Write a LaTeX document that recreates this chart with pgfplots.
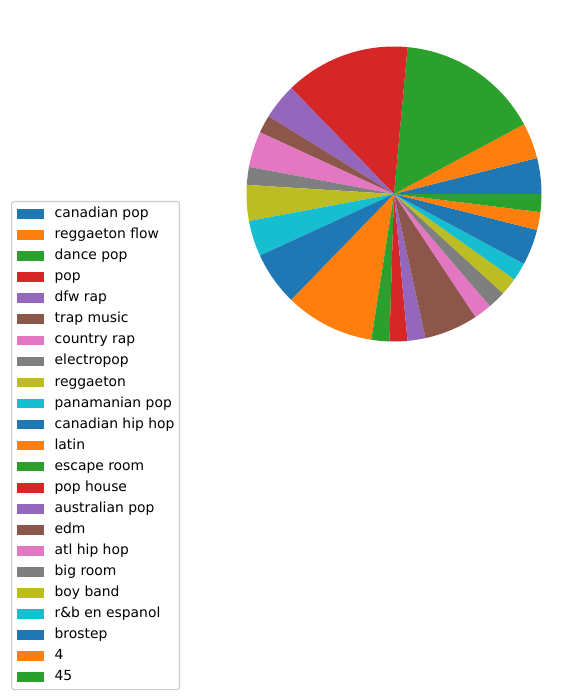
\documentclass[border=0pt]{standalone}
\usepackage{fontspec}
\setmainfont{DejaVu Sans}
\usepackage{pgfplots}
\pgfplotsset{compat=1.18}
\definecolor{c0}{HTML}{1F77B4}
\definecolor{c1}{HTML}{FF7F0E}
\definecolor{c2}{HTML}{2CA02C}
\definecolor{c3}{HTML}{D62728}
\definecolor{c4}{HTML}{9467BD}
\definecolor{c5}{HTML}{8C564B}
\definecolor{c6}{HTML}{E377C2}
\definecolor{c7}{HTML}{7F7F7F}
\definecolor{c8}{HTML}{BCBD22}
\definecolor{c9}{HTML}{17BECF}
% slice: colour, cumulative start, cumulative end (counts, total 51), label
\newcommand{\slice}[4]{%
  \addplot[fill=#1, draw=none, domain={#2*360/51}:{#3*360/51}, samples=40]
    ({394+147.5*cos(x)},{503+147.5*sin(x)}) -- (axis cs:394,503) -- cycle;
  \addlegendentry{#4}}
\begin{document}
\begin{tikzpicture}
\begin{axis}[
  width=423.36pt, height=501.84pt, scale only axis,
  xmin=0, xmax=588, ymin=0, ymax=697,
  hide axis, clip=false,
  legend cell align=left,
  legend image code/.code={\fill[#1, sharp corners] (0pt,-3.5pt) rectangle (19.4pt,3.5pt); \path (27.4pt,0pt);},
  legend style={at={(axis cs:11,496)}, anchor=north west,
    draw=black!20, line width=0.8pt, rounded corners=2pt,
    inner xsep=3.6pt, inner ysep=4pt, row sep=5.05pt,
    font=\fontsize{10pt}{12pt}\selectfont,
    nodes={inner sep=0pt, text height=7.6pt, text depth=2.5pt},
    column 2/.style={nodes={text width=87pt}}},
]
\path (axis cs:0,0) rectangle (axis cs:588,697);
\slice{c0}{0}{2}{canadian pop}
\slice{c1}{2}{4}{reggaeton flow}
\slice{c2}{4}{12}{dance pop}
\slice{c3}{12}{19}{pop}
\slice{c4}{19}{21}{dfw rap}
\slice{c5}{21}{22}{trap music}
\slice{c6}{22}{24}{country rap}
\slice{c7}{24}{25}{electropop}
\slice{c8}{25}{27}{reggaeton}
\slice{c9}{27}{29}{panamanian pop}
\slice{c0}{29}{32}{canadian hip hop}
\slice{c1}{32}{37}{latin}
\slice{c2}{37}{38}{escape room}
\slice{c3}{38}{39}{pop house}
\slice{c4}{39}{40}{australian pop}
\slice{c5}{40}{43}{edm}
\slice{c6}{43}{44}{atl hip hop}
\slice{c7}{44}{45}{big room}
\slice{c8}{45}{46}{boy band}
\slice{c9}{46}{47}{r\&b en espanol}
\slice{c0}{47}{49}{brostep}
\slice{c1}{49}{50}{4}
\slice{c2}{50}{51}{45}
\end{axis}
\end{tikzpicture}
\end{document}
